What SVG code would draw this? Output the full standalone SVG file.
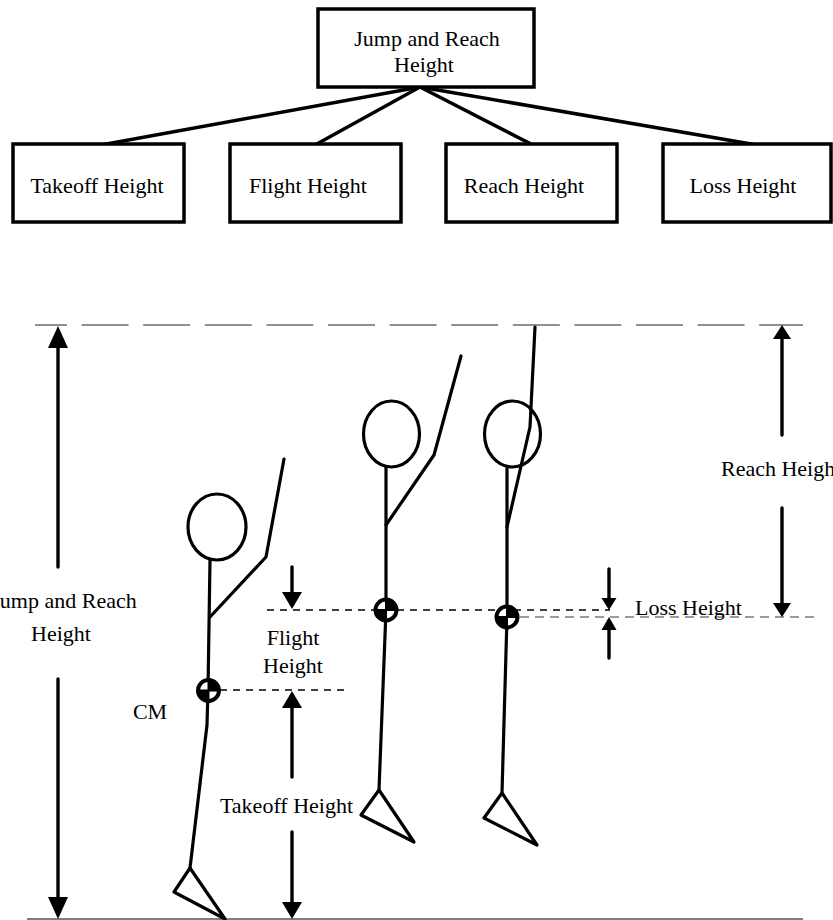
<svg xmlns="http://www.w3.org/2000/svg" width="833" height="920" viewBox="0 0 833 920">
  <style>
    .box { fill: #fff; stroke: #000; stroke-width: 3.5; }
    .link { stroke: #000; stroke-width: 3.5; fill: none; }
    .lbl { font-family: "Liberation Serif", "Times New Roman", serif; font-size: 22px; fill: #000; }
    .mid { text-anchor: middle; }
    .limb { stroke: #000; stroke-width: 3.2; fill: none; stroke-linecap: round; stroke-linejoin: round; }
    .head { fill: #fff; stroke: #000; stroke-width: 3.2; }
    .shaft { stroke: #000; stroke-width: 3.4; stroke-linecap: round; }
    .guide { stroke: #000; stroke-width: 1.3; stroke-dasharray: 7 6; fill: none; }
    .guide-grey { stroke: #7a7a7a; stroke-width: 1.6; stroke-dasharray: 9 6; fill: none; }
    .tip { fill: #000; }
  </style>

  <defs>
    <!-- centre-of-mass symbol: black ring with two black quadrants -->
    <g id="cm">
      <circle r="10.5" fill="#fff" stroke="#000" stroke-width="4"/>
      <path d="M0,0 L0,-10.5 A10.5,10.5 0 0 1 10.5,0 Z" fill="#000"/>
      <path d="M0,0 L0,10.5 A10.5,10.5 0 0 1 -10.5,0 Z" fill="#000"/>
      <path d="M-10.5,0 H10.5 M0,-10.5 V10.5" stroke="#000" stroke-width="2"/>
    </g>
  </defs>

  <!-- hierarchy: connectors -->
  <g id="connectors">
    <line class="link" x1="420" y1="87" x2="101" y2="145"/>
    <line class="link" x1="420" y1="87" x2="315" y2="145"/>
    <line class="link" x1="420" y1="87" x2="533" y2="145"/>
    <line class="link" x1="420" y1="87" x2="757" y2="145"/>
  </g>

  <!-- hierarchy: nodes -->
  <g id="node-jump-reach">
    <rect class="box" x="318" y="9" width="216" height="78"/>
    <text class="lbl mid" x="427" y="46">Jump and Reach</text>
    <text class="lbl mid" x="424" y="72">Height</text>
  </g>
  <g id="node-takeoff">
    <rect class="box" x="13" y="144" width="171" height="78"/>
    <text class="lbl mid" x="97" y="193">Takeoff Height</text>
  </g>
  <g id="node-flight">
    <rect class="box" x="230" y="144" width="171" height="78"/>
    <text class="lbl mid" x="308" y="193">Flight Height</text>
  </g>
  <g id="node-reach">
    <rect class="box" x="446" y="144" width="171" height="78"/>
    <text class="lbl mid" x="524" y="193">Reach Height</text>
  </g>
  <g id="node-loss">
    <rect class="box" x="663" y="144" width="168" height="78"/>
    <text class="lbl mid" x="743" y="193">Loss Height</text>
  </g>

  <!-- reference lines -->
  <line x1="35" y1="325" x2="803" y2="325" stroke="#6e6e6e" stroke-width="1.5" stroke-dasharray="47 14.6" stroke-dashoffset="15"/>
  <line x1="27" y1="919" x2="803" y2="919" stroke="#555" stroke-width="1.6"/>
  <line class="guide" x1="220" y1="690" x2="349" y2="690"/>
  <line class="guide" x1="267" y1="610" x2="610" y2="610"/>
  <line class="guide-grey" x1="520" y1="617" x2="820" y2="617"/>

  <!-- figure 1: standing -->
  <ellipse class="head" cx="217" cy="527" rx="29" ry="33"/>
  <polyline class="limb" points="210,560 208,690 207,725 190,868"/>
  <polyline class="limb" points="210,617 266,557 284,459"/>
  <polygon class="limb" points="190,868 174,892 225,919"/>
  <use href="#cm" x="208.5" y="690.5"/>

  <!-- figure 2: take-off peak -->
  <ellipse class="head" cx="391.5" cy="434" rx="28" ry="33"/>
  <polyline class="limb" points="386,467 386,610 379,790"/>
  <polyline class="limb" points="386,525 434,455 461,356"/>
  <polygon class="limb" points="379,790 361,815 414,842"/>
  <use href="#cm" x="386" y="610"/>

  <!-- figure 3: full reach -->
  <polyline class="limb" points="507,468 507,617 502,793"/>
  <ellipse class="head" cx="512.5" cy="434" rx="28" ry="33" fill="none"/>
  <polyline class="limb" points="507,527 530,427 535,327"/>
  <polygon class="limb" points="502,793 484,818 537,845"/>
  <use href="#cm" x="507" y="617"/>

  <!-- jump and reach height -->
  <line class="shaft" x1="58" y1="346" x2="58" y2="567"/>
  <polygon class="tip" points="58,326 48,348 68,348"/>
  <line class="shaft" x1="58" y1="679" x2="58" y2="900"/>
  <polygon class="tip" points="58,919 48,897 68,897"/>
  <text class="lbl mid" x="64" y="608">Jump and Reach</text>
  <text class="lbl mid" x="61" y="641">Height</text>

  <!-- flight height -->
  <line class="shaft" x1="292" y1="567" x2="292" y2="595"/>
  <polygon class="tip" points="292,609 282,592 302,592"/>
  <text class="lbl mid" x="293" y="645">Flight</text>
  <text class="lbl mid" x="293" y="673">Height</text>

  <!-- takeoff height -->
  <line class="shaft" x1="292" y1="705" x2="292" y2="777"/>
  <polygon class="tip" points="292,691 282,708 302,708"/>
  <line class="shaft" x1="292" y1="832" x2="292" y2="905"/>
  <polygon class="tip" points="292,919 282,902 302,902"/>
  <text class="lbl mid" x="286.5" y="813">Takeoff Height</text>
  <text class="lbl mid" x="150" y="719">CM</text>

  <!-- reach height -->
  <line class="shaft" x1="782" y1="336" x2="782" y2="435"/>
  <polygon class="tip" points="782,325 773,339 791,339"/>
  <line class="shaft" x1="782" y1="508" x2="782" y2="606"/>
  <polygon class="tip" points="782,617 773,603 791,603"/>
  <text class="lbl" x="721" y="476">Reach Height</text>

  <!-- loss height -->
  <line class="shaft" x1="609" y1="569" x2="609" y2="600"/>
  <polygon class="tip" points="609,610 601.5,598 616.5,598"/>
  <line class="shaft" x1="609" y1="628" x2="609" y2="658"/>
  <polygon class="tip" points="609,617 601.5,630 616.5,630"/>
  <text class="lbl" x="635" y="615">Loss Height</text>
</svg>
